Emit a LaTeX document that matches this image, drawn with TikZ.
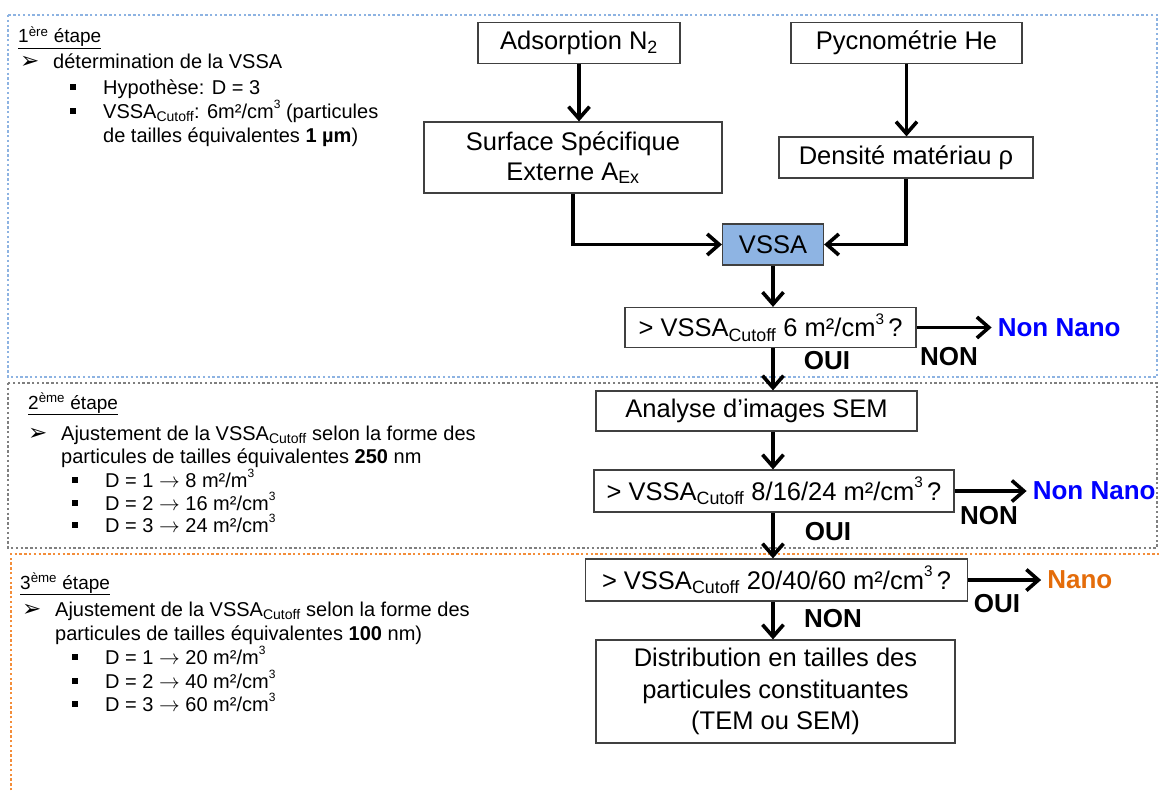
\documentclass[tikz,border=0pt]{standalone}
\usepackage{fontspec}
\setmainfont{Liberation Sans}
\newfontfamily\dejavu{DejaVu Sans}
\usetikzlibrary{positioning, arrows.meta}

\definecolor{bleuvssa}{HTML}{8EB4E3}
\definecolor{bleucadre}{HTML}{8DB3E2}
\definecolor{griscadre}{HTML}{7F7F7F}
\definecolor{orangecadre}{HTML}{F38D3A}
\definecolor{orangenano}{HTML}{E46C0A}

\newcommand{\puceA}{\makebox[33pt][l]{\dejavu\fontsize{23}{24}\selectfont ➢}}
\newcommand{\puceB}{\makebox[33pt][l]{\rule[4pt]{6pt}{6pt}}}
\newcommand{\cube}{\raisebox{0.5em}{\scalebox{0.6}{3}}}

\begin{document}
\begin{tikzpicture}[x=1pt, y=-1pt,
    boite/.style={rectangle, draw=black!75, line width=1.2pt, fill=white, align=center, inner sep=2pt, font=\fontsize{25.5}{30}\selectfont},
    fleche/.style={-{Straight Barb[length=12pt, width=21pt]}, line width=3.6pt},
    reponse/.style={font=\fontsize{26}{30}\selectfont\bfseries, inner sep=0pt},
    issue/.style={font=\fontsize{26}{30}\selectfont\bfseries, inner sep=6pt},
    ligne/.style={anchor=base west, inner sep=0pt, font=\fontsize{20}{24}\selectfont},
    titre/.style={anchor=base west, inner sep=0pt, font=\fontsize{19}{23}\selectfont},
    cadre/.style={line width=2.4pt, dash pattern=on 2.4pt off 2.4pt}
    ]
    \useasboundingbox (0,0) rectangle (1159,792);

    % Cadres des etapes
    \draw[cadre, bleucadre] (8,15) rectangle (1157,377);
    \draw[cadre, griscadre] (8,383) rectangle (1157,548);
    \draw[cadre, orangecadre] (11,800) -- (11,554) -- (1165,554);

    % 1ere etape
    \node[titre] (e1) at (18,43) {\underline{1\textsuperscript{ère} étape}};
    \node[ligne] (e1a) at (20,69) {\puceA détermination de la VSSA};
    \node[ligne] (e1b) at (70,94) {\puceB Hypothèse: D = 3};
    \node[ligne] (e1c) at (70,118) {\puceB VSSA\textsubscript{Cutoff}: 6m²/cm\cube{} (particules};
    \node[ligne] (e1d) at (103,142) {de tailles équivalentes \textbf{1 µm})};

    % 2eme etape
    \node[titre] (e2) at (28,409) {\underline{2\textsuperscript{ème} étape}};
    \node[ligne] (e2a) at (28,440) {\puceA Ajustement de la VSSA\textsubscript{Cutoff} selon la forme des};
    \node[ligne] (e2b) at (61,463) {particules de tailles équivalentes \textbf{250} nm};
    \node[ligne] (e2c) at (72,487) {\puceB D = 1 $\rightarrow$ 8 m²/m\cube};
    \node[ligne] (e2d) at (72,510) {\puceB D = 2 $\rightarrow$ 16 m²/cm\cube};
    \node[ligne] (e2e) at (72,532) {\puceB D = 3 $\rightarrow$ 24 m²/cm\cube};

    % 3eme etape
    \node[titre] (e3) at (20,589) {\underline{3\textsuperscript{ème} étape}};
    \node[ligne] (e3a) at (22,616) {\puceA Ajustement de la VSSA\textsubscript{Cutoff} selon la forme des};
    \node[ligne] (e3b) at (55,640) {particules de tailles équivalentes \textbf{100} nm)};
    \node[ligne] (e3c) at (72,664) {\puceB D = 1 $\rightarrow$ 20 m²/m\cube};
    \node[ligne] (e3d) at (72,688) {\puceB D = 2 $\rightarrow$ 40 m²/cm\cube};
    \node[ligne] (e3e) at (72,711) {\puceB D = 3 $\rightarrow$ 60 m²/cm\cube};

    % Boites du logigramme
    \node[boite, minimum width=202pt, minimum height=41pt] (ads) at (579,43) {Adsorption N\textsubscript{2}};
    \node[boite, minimum width=231pt, minimum height=41pt] (pyc) at (906.5,43) {Pycnométrie He};
    \node[boite, minimum width=298pt, minimum height=71pt] (surf) at (573,157.5) {Surface Spécifique\\Externe A\textsubscript{Ex}};
    \node[boite, minimum width=254pt, minimum height=41pt] (dens) at (906,157.5) {Densité matériau ρ};
    \node[boite, fill=bleuvssa, minimum width=101pt, minimum height=41pt] (vssa) at (773,244.5) {VSSA};
    \node[boite, minimum width=291pt, minimum height=40pt] (q1) at (770.5,327.5) {> VSSA\textsubscript{Cutoff} 6 m²/cm\cube\,?};
    \node[boite, minimum width=321pt, minimum height=40pt] (sem) at (756.5,411) {Analyse d’images SEM};
    \node[boite, minimum width=360pt, minimum height=42pt] (q2) at (774,491) {> VSSA\textsubscript{Cutoff} 8/16/24 m²/cm\cube\,?};
    \node[boite, minimum width=382pt, minimum height=42pt] (q3) at (776.5,580) {> VSSA\textsubscript{Cutoff} 20/40/60 m²/cm\cube\,?};
    \node[boite, minimum width=359pt, minimum height=103pt, font=\fontsize{25.5}{31.5}\selectfont] (dist) at (775.5,691.5) {Distribution en tailles des\\particules constituantes\\(TEM ou SEM)};

    % Issues
    \node[issue, text=blue, right=75pt of q1] (nn1) {Non Nano};
    \node[issue, text=blue, right=72pt of q2] (nn2) {Non Nano};
    \node[issue, text=orangenano, right=73pt of q3] (nano) {Nano};

    % Reponses
    \node[reponse] (oui1) at (827,361) {OUI};
    \node[reponse] (non1) at (949,357) {NON};
    \node[reponse] (non2) at (989,516) {NON};
    \node[reponse] (oui2) at (828,532) {OUI};
    \node[reponse] (oui3) at (997,604) {OUI};
    \node[reponse] (non3) at (833,619) {NON};

    % Fleches
    \coordinate (axe) at (773,0);
    \draw[fleche] (ads.south) -- (ads.south |- surf.north);
    \draw[fleche] (pyc.south) -- (pyc.south |- dens.north);
    \draw[fleche] (surf.south) |- (vssa.west);
    \draw[fleche] (dens.south) |- (vssa.east);
    \draw[fleche] (vssa.south) -- (vssa.south |- q1.north);
    \draw[fleche] (q1.south -| axe) -- (sem.north -| axe);
    \draw[fleche] (sem.south -| axe) -- (q2.north -| axe);
    \draw[fleche] (q2.south -| axe) -- (q3.north -| axe);
    \draw[fleche] (q3.south -| axe) -- (dist.north -| axe);
    \draw[fleche] (q1) -- (nn1);
    \draw[fleche] (q2) -- (nn2);
    \draw[fleche] (q3) -- (nano);
\end{tikzpicture}
\end{document}
